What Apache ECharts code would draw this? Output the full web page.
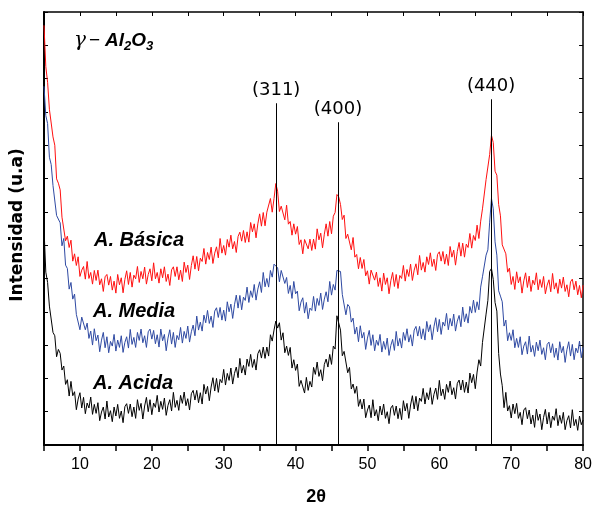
<!DOCTYPE html>
<html>
<head>
<meta charset="utf-8">
<script src="https://cdn.jsdelivr.net/npm/echarts@6/dist/echarts.min.js"></script>
<style>
html,body{margin:0;padding:0;background:#fff;}
#chart{width:595px;height:506px;}
</style>
</head>
<body>
<div id="chart"></div>
<script>
// 2θ sampling grid: 5° to 80° every 0.25°
const thetaStart = 5, thetaStep = 0.25;

// A. Básica (red), intensity a.u., groups of four per degree (x.00, x.25, x.50, x.75)
const basica = [
1260,1136,1089,1008, 1009,925,900,799, 786,766,684,686, 613,627,593,615, 552,574,539,565,
506,525,536,498, 551,500,518,483, 524,494,525,481, 499,461,505,512, 480,506,465,492,
456,512,481,502, 457,497,523,482, 518,474,510,499, 536,488,521,499, 534,483,512,529,
493,547,499,518, 486,529,502,535, 491,513,479,526, 535,506,535,496, 525,491,549,518,
540,497,539,568, 528,566,523,561, 551,590,543,578, 557,594,545,576, 595,562,620,576,
599,570,617,594, 630,589,611,578, 626,639,612,644, 608,640,609,668, 640,664,622,664,
694,657,698,658, 699,695,740,699, 740,785,762,701, 717,722,676,720, 663,671,630,664,
633,656,602,616, 574,617,619,589, 618,584,618,588, 649,616,636,592, 633,664,627,671,
634,687,698,752, 745,722,677,690, 620,633,634,586, 623,564,572,529, 563,530,557,508,
523,483,525,530, 495,519,476,502, 462,516,482,502, 454,493,518,476, 512,470,509,500,
539,492,527,506, 543,494,525,544, 511,569,525,548, 519,565,542,577, 536,558,524,572,
580,552,581,543, 573,539,596,564, 585,540,581,608, 567,606,564,603, 593,635,591,629,
614,660,620,672, 709,703,797,801, 872,930,908,822, 810,722,688,601, 602,574,519,531,
482,506,467,520, 487,505,456,493, 517,473,507,461, 495,481,517,466, 497,473,506,454,
480,496,460,515, 468,487,455,498, 471,504,461,481, 445,490,498,466, 492,451,479,442,
480
];

// A. Media (blue)
const media = [
1077,989,965,864, 842,779,777,689, 684,667,598,620, 540,530,468,488, 438,453,392,397,
346,384,385,346, 366,320,342,300, 349,313,330,280, 315,338,292,325, 277,311,297,332,
282,315,293,328, 278,308,325,291, 347,302,323,293, 338,314,348,307, 328,293,340,348,
318,344,304,331, 294,348,313,332, 283,321,346,303, 338,293,329,316, 353,306,341,320,
357,309,340,360, 328,387,345,369, 342,390,367,404, 365,387,353,402, 412,383,413,375,
405,372,430,400, 423,380,421,450, 411,449,406,444, 434,474,428,463, 443,482,435,468,
490,458,518,475, 500,474,524,504, 543,545,532,490, 524,524,485,503, 455,479,440,491,
454,462,403,429, 442,396,428,379, 411,404,446,402, 440,419,456,407, 438,460,430,491,
450,482,465,524, 528,521,452,450, 391,422,415,369, 381,333,354,310, 358,321,338,287,
321,344,299,331, 283,315,299,332, 279,311,287,321, 269,299,317,284, 341,297,320,291,
338,314,349,309, 331,297,345,356, 327,356,319,349, 315,371,340,361, 316,355,382,340,
377,332,369,357, 395,346,380,357, 393,342,372,389, 355,414,370,394, 366,416,396,435,
398,430,406,474, 505,509,570,586, 669,740,709,610, 570,463,447,430, 357,375,313,337,
314,346,292,320, 293,325,271,297, 310,273,327,279, 299,266,309,283, 315,272,292,256,
302,309,277,304, 263,291,255,310, 277,296,248,286, 310,267,302,256, 291,277,312,262,
293
];

// A. Acida (black)
const acida = [
650,519,488,417, 411,338,328,265, 287,275,225,237, 182,196,147,191, 148,160,106,138,
157,111,143,94, 126,111,144,92, 122,95,127,73, 99,114,78,132, 84,103,70,114,
87,122,80,102, 67,115,124,95, 123,85,114,80, 136,104,125,78, 117,143,100,136,
91,126,113,149, 99,131,107,141, 89,119,136,102, 158,113,134,104, 149,125,159,118,
139,105,154,164, 135,164,127,157, 123,182,153,176, 133,174,202,162, 200,158,197,187,
227,180,215,194, 231,183,215,234, 202,260,216,239, 210,258,236,272, 233,257,225,274,
286,261,294,260, 294,267,331,312, 345,372,351,367, 315,337,277,297, 269,293,231,256,
224,243,176,194, 199,156,203,164, 191,174,233,212, 249,206,226,193, 242,258,234,272,
242,297,288,388, 382,345,268,281, 280,217,233,168, 183,155,176,116, 137,108,138,82,
105,120,82,136, 87,106,73,117, 90,123,80,100, 64,111,119,89, 117,79,110,76,
133,102,125,80, 120,148,108,146, 103,141,131,170, 123,157,136,172, 122,152,171,137,
194,148,168,137, 182,158,192,151, 172,138,185,195, 165,195,158,189, 156,216,187,212,
169,219,256,237, 308,307,393,434, 521,530,497,428, 402,275,213,178, 112,158,102,118,
81,123,94,125, 80,98,61,105, 112,79,105,63, 90,53,108,74, 93,46,83,107,
63,98,52,87, 74,109,58,89, 65,98,46,73, 88,51,106,58, 77,44,87,61,
75
];

// Reflection markers
const peakNames = ['(311)', '(400)', '(440)'];
const peakPos = [37.3, 45.9, 67.2];
const peakTop = [1026, 969, 1038];

// X tick labels shown
const xTickLabels = [10, 20, 30, 40, 50, 60, 70, 80];

function pairs(arr) {
  return arr.map((v, i) => [thetaStart + i * thetaStep, v]);
}

const chart = echarts.init(document.getElementById('chart'), null, {renderer: 'canvas'});

const axisFont = 'Liberation Sans, Arial, sans-serif';

const option = {
  animation: false,
  backgroundColor: '#fff',
  grid: {left: 44, right: 8, top: 12, bottom: 61},
  xAxis: [
    {
      type: 'value', min: 5, max: 80, interval: 5, position: 'bottom',
      axisLine: {onZero: false, lineStyle: {color: '#000', width: 2}},
      axisTick: {show: true, inside: false, length: 6, lineStyle: {color: '#000', width: 1.5}},
      axisLabel: {
        margin: 12, color: '#000', fontSize: 16, fontFamily: axisFont,
        formatter: v => (xTickLabels.indexOf(v) >= 0 ? String(v) : '')
      },
      splitLine: {show: false}
    },
    {
      type: 'value', min: 5, max: 80, interval: 5, position: 'top',
      axisLine: {onZero: false, lineStyle: {color: '#000', width: 1.5}},
      axisTick: {show: true, inside: true, length: 4, lineStyle: {color: '#000', width: 1}},
      axisLabel: {show: false},
      splitLine: {show: false}
    }
  ],
  yAxis: [
    {
      type: 'value', min: 0, max: 1300, interval: 100, position: 'left',
      axisLine: {show: true, onZero: false, lineStyle: {color: '#000', width: 2}},
      axisTick: {show: true, inside: true, length: 4, lineStyle: {color: '#000', width: 1}},
      axisLabel: {show: false},
      splitLine: {show: false}
    },
    {
      type: 'value', min: 0, max: 1300, interval: 100, position: 'right',
      axisLine: {show: true, onZero: false, lineStyle: {color: '#000', width: 1.5}},
      axisTick: {show: true, inside: true, length: 4, lineStyle: {color: '#000', width: 1}},
      axisLabel: {show: false},
      splitLine: {show: false}
    }
  ],
  series: [
    {
      name: 'A. Básica', type: 'line', data: pairs(basica), showSymbol: false,
      lineStyle: {color: '#ff1010', width: 1}, itemStyle: {color: '#ff1010'}, z: 2
    },
    {
      name: 'A. Media', type: 'line', data: pairs(media), showSymbol: false,
      lineStyle: {color: '#2f4aa3', width: 1}, itemStyle: {color: '#2f4aa3'}, z: 2
    },
    {
      name: 'A. Acida', type: 'line', data: pairs(acida), showSymbol: false,
      lineStyle: {color: '#000', width: 1}, itemStyle: {color: '#000'}, z: 3,
      markLine: {
        silent: true, symbol: 'none', animation: false,
        lineStyle: {color: '#000', width: 1, type: 'solid'},
        label: {
          show: true, position: 'end', distance: 4, formatter: '{b}',
          color: '#000', fontSize: 18, fontFamily: 'DejaVu Sans'
        },
        data: peakPos.map((x, i) => [
          {coord: [x, 0], name: peakNames[i]},
          {coord: [x, peakTop[i]]}
        ])
      }
    }
  ],
  graphic: [
    {
      type: 'text', x: 18, y: 225, rotation: Math.PI / 2,
      style: {
        text: 'Intensidad (u.a)', fill: '#000', fontSize: 17, fontWeight: 'bold',
        fontFamily: 'DejaVu Sans', align: 'center', verticalAlign: 'middle'
      }
    },
    {
      type: 'text', x: 316, y: 497,
      style: {
        text: '2θ', fill: '#000', fontSize: 18, fontWeight: 'bold',
        fontFamily: axisFont, align: 'center', verticalAlign: 'middle'
      }
    },
    {
      type: 'text', x: 94, y: 240,
      style: {
        text: 'A. Básica', fill: '#000', fontSize: 20, fontWeight: 'bold', fontStyle: 'italic',
        fontFamily: axisFont, align: 'left', verticalAlign: 'middle'
      }
    },
    {
      type: 'text', x: 93, y: 311,
      style: {
        text: 'A. Media', fill: '#000', fontSize: 20, fontWeight: 'bold', fontStyle: 'italic',
        fontFamily: axisFont, align: 'left', verticalAlign: 'middle'
      }
    },
    {
      type: 'text', x: 93, y: 383,
      style: {
        text: 'A. Acida', fill: '#000', fontSize: 20, fontWeight: 'bold', fontStyle: 'italic',
        fontFamily: axisFont, align: 'left', verticalAlign: 'middle'
      }
    },
    {
      type: 'text', x: 74, y: 31,
      style: {
        text: '{g|γ}{m|−}{n|Al}{s|2}{n|O}{s|3}',
        fill: '#000', fontFamily: axisFont, align: 'left', verticalAlign: 'top',
        rich: {
          g: {fontSize: 20, fontStyle: 'italic', fontFamily: 'DejaVu Serif', verticalAlign: 'top', lineHeight: 22, padding: [0, 3, 0, 0]},
          m: {fontSize: 19, fontFamily: axisFont, verticalAlign: 'top', lineHeight: 22, padding: [0, 5, 0, 0]},
          n: {fontSize: 19, fontWeight: 'bold', fontStyle: 'italic', fontFamily: axisFont, verticalAlign: 'top', lineHeight: 22},
          s: {fontSize: 13, fontWeight: 'bold', fontStyle: 'italic', fontFamily: axisFont, verticalAlign: 'bottom', lineHeight: 13, padding: [14, 0, 0, 0]}
        }
      }
    }
  ]
};

chart.setOption(option);
</script>
</body>
</html>
